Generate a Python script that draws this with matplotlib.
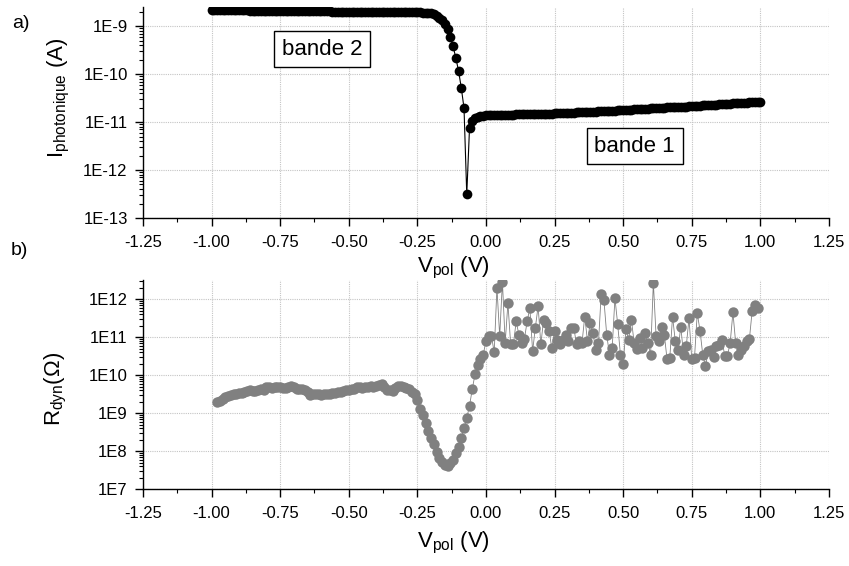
import numpy as np
import matplotlib
matplotlib.use("Agg")
import matplotlib.pyplot as plt
from matplotlib.ticker import MultipleLocator, LogLocator, FuncFormatter, NullFormatter

plt.rcParams['font.family'] = ['Liberation Sans', 'DejaVu Sans']
plt.rcParams['mathtext.fontset'] = 'custom'
plt.rcParams['mathtext.rm'] = 'Liberation Sans'
plt.rcParams['mathtext.it'] = 'Liberation Sans:italic'
plt.rcParams['axes.unicode_minus'] = False

# bias sweep, 10 mV step
v_photo = np.round(np.linspace(-1.0, 1.0, 201), 2)
v_rdyn = np.round(np.linspace(-0.98, 0.99, 198), 2)

# a) photocurrent (A)
i_photo = [
    2.16e-9, 2.16e-9, 2.15e-9, 2.15e-9, 2.15e-9, 2.14e-9, 2.14e-9, 2.14e-9, 2.13e-9, 2.13e-9,
    2.13e-9, 2.12e-9, 2.12e-9, 2.12e-9, 2.11e-9, 2.11e-9, 2.11e-9, 2.10e-9, 2.10e-9, 2.10e-9,
    2.09e-9, 2.09e-9, 2.09e-9, 2.08e-9, 2.08e-9, 2.08e-9, 2.07e-9, 2.07e-9, 2.07e-9, 2.06e-9,
    2.06e-9, 2.06e-9, 2.05e-9, 2.05e-9, 2.05e-9, 2.04e-9, 2.04e-9, 2.04e-9, 2.03e-9, 2.03e-9,
    2.03e-9, 2.02e-9, 2.02e-9, 2.02e-9, 2.01e-9, 2.01e-9, 2.01e-9, 2.00e-9, 2.00e-9, 2.00e-9,
    2.00e-9, 1.99e-9, 1.99e-9, 1.99e-9, 1.99e-9, 1.98e-9, 1.98e-9, 1.98e-9, 1.98e-9, 1.97e-9,
    1.97e-9, 1.97e-9, 1.97e-9, 1.96e-9, 1.96e-9, 1.96e-9, 1.96e-9, 1.95e-9, 1.95e-9, 1.95e-9,
    1.95e-9, 1.95e-9, 1.94e-9, 1.94e-9, 1.94e-9, 1.93e-9, 1.93e-9, 1.92e-9, 1.91e-9, 1.90e-9,
    1.86e-9, 1.78e-9, 1.66e-9, 1.51e-9, 1.35e-9, 1.12e-9, 8.9e-10, 6.0e-10, 3.8e-10, 2.2e-10,
    1.17e-10, 5.2e-11, 1.95e-11, 3.1e-13, 7.4e-12, 1.05e-11, 1.20e-11, 1.27e-11, 1.32e-11, 1.35e-11,
    1.38e-11, 1.39e-11, 1.39e-11, 1.40e-11, 1.40e-11, 1.41e-11, 1.41e-11, 1.42e-11, 1.42e-11, 1.43e-11,
    1.43e-11, 1.44e-11, 1.44e-11, 1.45e-11, 1.45e-11, 1.46e-11, 1.46e-11, 1.47e-11, 1.47e-11, 1.48e-11,
    1.48e-11, 1.49e-11, 1.49e-11, 1.50e-11, 1.50e-11, 1.51e-11, 1.52e-11, 1.53e-11, 1.54e-11, 1.55e-11,
    1.56e-11, 1.57e-11, 1.58e-11, 1.59e-11, 1.60e-11, 1.61e-11, 1.62e-11, 1.63e-11, 1.64e-11, 1.65e-11,
    1.66e-11, 1.67e-11, 1.68e-11, 1.69e-11, 1.70e-11, 1.71e-11, 1.72e-11, 1.74e-11, 1.75e-11, 1.77e-11,
    1.78e-11, 1.79e-11, 1.81e-11, 1.82e-11, 1.84e-11, 1.85e-11, 1.87e-11, 1.88e-11, 1.90e-11, 1.91e-11,
    1.93e-11, 1.94e-11, 1.96e-11, 1.97e-11, 1.99e-11, 2.00e-11, 2.02e-11, 2.03e-11, 2.05e-11, 2.06e-11,
    2.08e-11, 2.09e-11, 2.10e-11, 2.11e-11, 2.13e-11, 2.14e-11, 2.16e-11, 2.18e-11, 2.20e-11, 2.22e-11,
    2.24e-11, 2.26e-11, 2.28e-11, 2.30e-11, 2.32e-11, 2.34e-11, 2.36e-11, 2.38e-11, 2.40e-11, 2.42e-11,
    2.44e-11, 2.46e-11, 2.48e-11, 2.50e-11, 2.52e-11, 2.54e-11, 2.56e-11, 2.58e-11, 2.60e-11, 2.62e-11,
    2.63e-11,
]

# b) dynamic resistance (Ohm)
r_dyn = [
    1.95e9, 2.14e9, 2.34e9, 2.63e9, 2.82e9, 3.02e9, 3.16e9, 3.31e9, 3.39e9, 3.47e9,
    3.55e9, 3.80e9, 3.98e9, 3.89e9, 3.80e9, 3.98e9, 4.27e9, 4.17e9, 4.79e9, 5.01e9,
    4.57e9, 4.79e9, 5.01e9, 5.00e9, 4.68e9, 4.57e9, 5.00e9, 5.37e9, 4.90e9, 4.37e9,
    4.27e9, 4.37e9, 3.98e9, 3.55e9, 3.09e9, 3.31e9, 3.16e9, 3.31e9, 3.09e9, 3.24e9,
    3.31e9, 3.16e9, 3.39e9, 3.47e9, 3.55e9, 3.72e9, 3.80e9, 3.98e9, 4.07e9, 4.27e9,
    4.27e9, 4.79e9, 5.01e9, 4.68e9, 4.79e9, 4.90e9, 5.13e9, 5.01e9, 5.25e9, 5.62e9,
    5.75e9, 4.79e9, 4.17e9, 3.98e9, 3.80e9, 4.57e9, 5.13e9, 5.13e9, 4.90e9, 4.68e9,
    4.27e9, 3.72e9, 3.16e9, 2.29e9, 1.26e9, 8.9e8, 5.6e8, 3.5e8, 2.3e8, 1.6e8,
    9.5e7, 6.6e7, 5.1e7, 4.4e7, 4.2e7, 4.8e7, 6.0e7, 8.9e7, 1.3e8, 2.2e8,
    4.0e8, 7.6e8, 1.55e9, 4.3e9, 1.05e10, 1.9e10, 2.6e10, 3.5e10,
    7.9e10, 1.07e11, 1.07e11, 4.0e10, 2.0e12, 1.07e11, 2.9e12, 7.1e10, 7.9e11, 6.5e10,
    6.5e10, 2.6e11, 1.17e11, 7.1e10, 8.9e10, 2.6e11, 5.9e11, 4.3e10, 1.8e11, 6.5e11,
    6.5e10, 2.9e11, 2.3e11, 1.45e11, 5.2e10, 1.45e11, 8.7e10, 6.5e10, 8.7e10, 1.17e11,
    7.9e10, 1.8e11, 1.8e11, 6.5e10, 7.9e10, 7.1e10, 3.5e11, 7.9e10, 2.4e11, 1.3e11,
    4.5e10, 7.1e10, 1.4e12, 9.3e11, 1.17e11, 3.5e10, 5.2e10, 1.07e12, 2.2e11, 3.5e10,
    1.95e10, 1.6e11, 8.7e10, 2.9e11, 7.1e10, 4.8e10, 9.5e10, 5.2e10, 1.3e11, 7.1e10,
    3.5e10, 2.75e12, 1.05e11, 7.8e10, 1.9e11, 1.17e11, 2.6e10, 2.9e10, 3.5e11, 7.8e10,
    4.7e10, 1.9e11, 3.5e10, 5.8e10, 3.2e11, 2.6e10, 2.9e10, 4.3e11, 1.5e11, 3.5e10,
    1.7e10, 4.3e10, 4.7e10, 3.0e10, 5.8e10, 6.3e10, 8.7e10, 3.3e10, 3.3e10, 7.1e10,
    4.5e11, 7.1e10, 3.5e10, 4.7e10, 5.8e10, 7.8e10, 8.9e10, 4.8e11, 7.1e11, 5.8e11,
]

x_ticks = [-1.25, -1.00, -0.75, -0.50, -0.25, 0.00, 0.25, 0.50, 0.75, 1.00, 1.25]


def expo_fmt(v, pos):
    return "1E%d" % int(round(np.log10(v)))


def style_axis(ax, ylim):
    ax.set_yscale('log')
    ax.set_xlim(-1.25, 1.25)
    ax.set_ylim(*ylim)
    ax.set_xticks(x_ticks)
    ax.xaxis.set_minor_locator(MultipleLocator(0.125))
    ax.xaxis.set_major_formatter(FuncFormatter(lambda v, p: "%.2f" % v))
    ax.yaxis.set_major_locator(LogLocator(base=10, numticks=20))
    ax.yaxis.set_minor_locator(LogLocator(base=10, subs=np.arange(2, 10), numticks=20))
    ax.yaxis.set_major_formatter(FuncFormatter(expo_fmt))
    ax.yaxis.set_minor_formatter(NullFormatter())
    ax.spines['top'].set_visible(False)
    ax.spines['right'].set_visible(False)
    for s in ('left', 'bottom'):
        ax.spines[s].set_linewidth(1.0)
    ax.tick_params(which='major', direction='out', length=6, width=1.0, labelsize=12)
    ax.tick_params(axis='x', which='major', pad=6)
    ax.tick_params(axis='y', which='major', pad=5)
    ax.tick_params(which='minor', direction='out', length=3, width=0.8)
    ax.grid(True, which='major', color='#c4c4c4', lw=0.8, ls=(0, (1, 1)))
    ax.set_axisbelow(True)


fig = plt.figure(figsize=(8.49, 5.66), dpi=100)
ax1 = fig.add_axes([0.1684, 0.6148, 0.808, 0.3728])
ax2 = fig.add_axes([0.1684, 0.1355, 0.808, 0.3698])

ax1.plot(v_photo, i_photo, '-o', color='black', lw=0.8, ms=7, mew=0)
style_axis(ax1, (1e-13, 2.5e-9))

ax2.plot(v_rdyn, r_dyn, '-o', color='#808080', lw=0.6, ms=7.5, mew=0)
style_axis(ax2, (1e7, 3.2e12))

box = dict(boxstyle='square,pad=0.35', fc='white', ec='black', lw=1.0)
ax1.text(-0.597, 10**-9.48, "bande 2", fontsize=16, ha='center', va='center', bbox=box)
ax1.text(0.542, 10**-11.5, "bande 1", fontsize=16, ha='center', va='center', bbox=box)

fig.text(0.014, 0.959, "a)", fontsize=14, ha='left', va='center')
fig.text(0.012, 0.558, "b)", fontsize=14, ha='left', va='center')

fig.text(0.534, 0.518, r"V$_{\mathrm{pol}}$ (V)", fontsize=16, ha='center', va='baseline')
fig.text(0.534, 0.032, r"V$_{\mathrm{pol}}$ (V)", fontsize=16, ha='center', va='baseline')

fig.text(0.070, 0.827, r"I$_{\mathrm{photonique}}$ (A)", fontsize=16, rotation=90,
         ha='center', va='center')
fig.text(0.066, 0.313, r"R$_{\mathrm{dyn}}$(Ω)", fontsize=16, rotation=90,
         ha='center', va='center')

fig.savefig('out.png', dpi=100)
